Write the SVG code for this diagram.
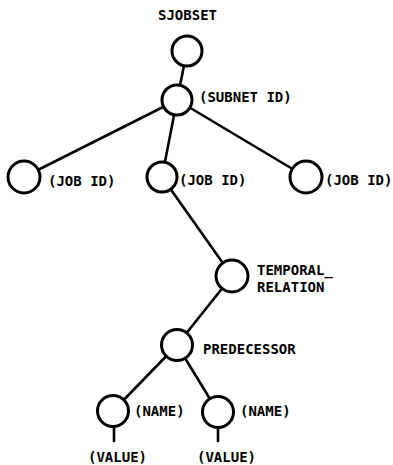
<svg xmlns="http://www.w3.org/2000/svg" width="393" height="465" viewBox="0 0 393 465">
<style>
.n{fill:#fff;stroke:#000;stroke-width:3}
.e{stroke:#000;stroke-width:2.6;fill:none;stroke-linecap:round}
.t{font-family:"DejaVu Sans Mono","Liberation Mono",monospace;font-size:14px;font-weight:bold;fill:#000}
</style>
<rect width="393" height="465" fill="#fff"/>
<g id="connectors">
<line class="e" x1="187" y1="51" x2="177" y2="100"/>
<line class="e" x1="177" y1="100" x2="24" y2="177"/>
<line class="e" x1="177" y1="100" x2="162" y2="177"/>
<line class="e" x1="177" y1="100" x2="306" y2="177"/>
<line class="e" x1="162" y1="177" x2="232" y2="276"/>
<line class="e" x1="232" y1="276" x2="177" y2="345"/>
<line class="e" x1="177" y1="345" x2="113" y2="411"/>
<line class="e" x1="177" y1="345" x2="218" y2="412"/>
<line class="e" x1="114" y1="426" x2="114" y2="441"/>
<line class="e" x1="218" y1="427" x2="218" y2="441"/>
</g>
<g id="sjobset"><circle class="n" cx="187" cy="51" r="15"/><text class="t" x="158" y="20">SJOBSET</text></g>
<g id="subnet"><circle class="n" cx="177" cy="100" r="15"/><text class="t" x="199" y="102">(SUBNET ID)</text></g>
<g id="job1"><circle class="n" cx="24" cy="177" r="16"/><text class="t" x="48" y="186">(JOB ID)</text></g>
<g id="job2"><circle class="n" cx="162" cy="177" r="15"/><text class="t" x="179" y="185">(JOB ID)</text></g>
<g id="job3"><circle class="n" cx="306" cy="177" r="16"/><text class="t" x="325" y="185">(JOB ID)</text></g>
<g id="temporal"><circle class="n" cx="232" cy="276" r="16"/><text class="t" x="257" y="275">TEMPORAL_</text><text class="t" x="257" y="292">RELATION</text></g>
<g id="predecessor"><circle class="n" cx="177" cy="345" r="15.5"/><text class="t" x="203" y="354">PREDECESSOR</text></g>
<g id="name1"><circle class="n" cx="113" cy="411" r="15.5"/><text class="t" x="134" y="416">(NAME)</text><text class="t" x="88" y="462">(VALUE)</text></g>
<g id="name2"><circle class="n" cx="218" cy="412" r="15.5"/><text class="t" x="240" y="416">(NAME)</text><text class="t" x="197" y="462">(VALUE)</text></g>
</svg>
